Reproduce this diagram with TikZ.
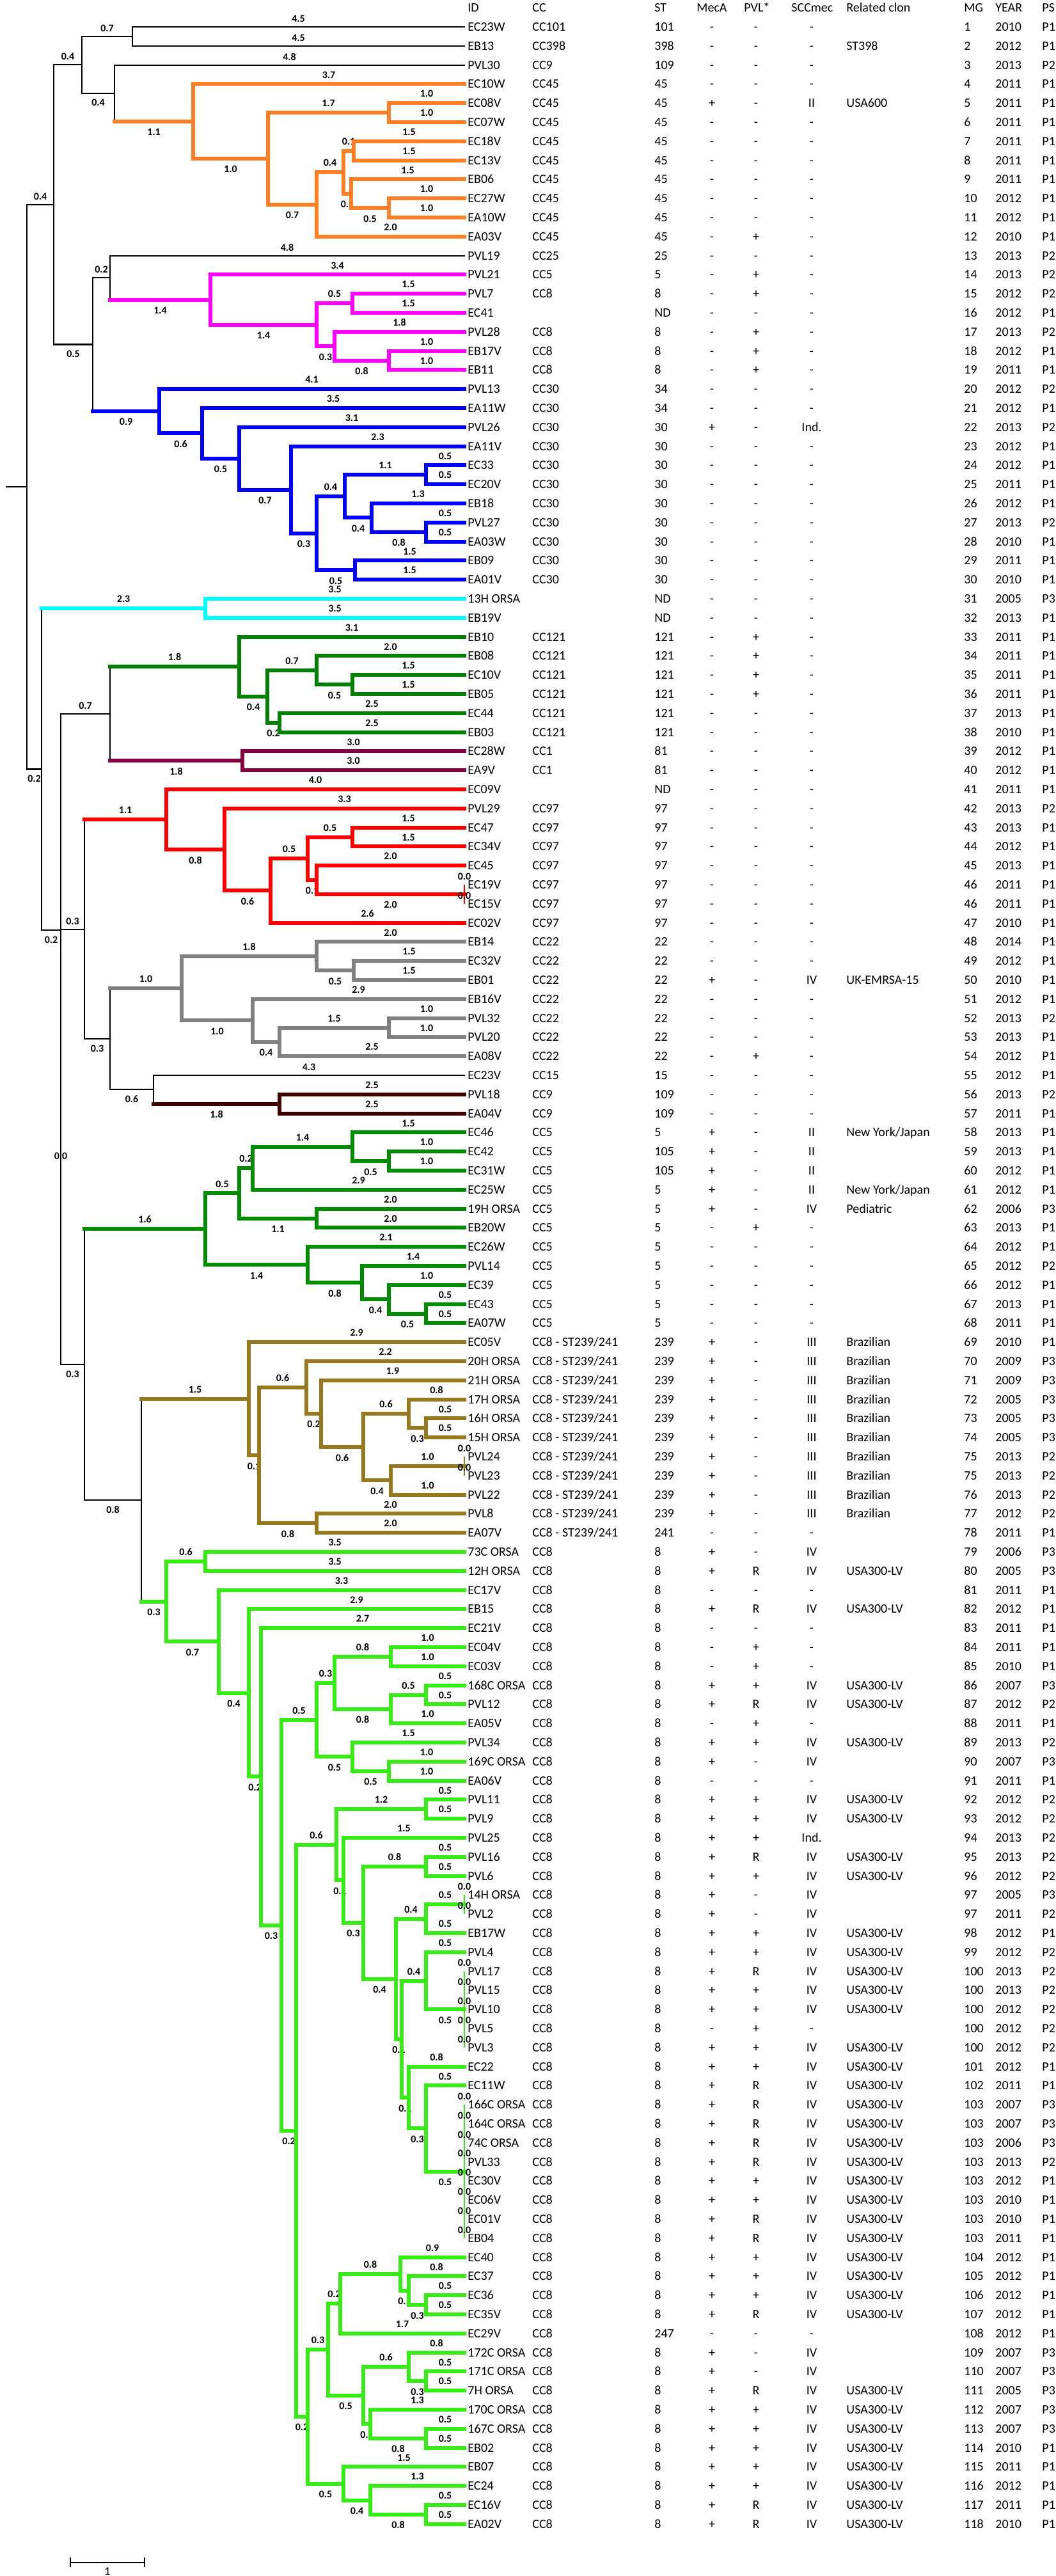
\documentclass[tikz,border=0pt]{standalone}
\usepackage{fontspec}
\setmainfont{Carlito}
\definecolor{cOr}{RGB}{255,127,39}
\definecolor{cMg}{RGB}{255,0,255}
\definecolor{cBl}{RGB}{0,0,255}
\definecolor{cCy}{RGB}{0,255,255}
\definecolor{cDg}{RGB}{0,128,0}
\definecolor{cPu}{RGB}{128,0,64}
\definecolor{cRd}{RGB}{255,0,0}
\definecolor{cGy}{RGB}{128,128,128}
\definecolor{cBr}{RGB}{64,0,0}
\definecolor{cGn}{RGB}{0,140,0}
\definecolor{cOl}{RGB}{150,120,30}
\definecolor{cLi}{RGB}{55,235,20}
\tikzset{
 sBk/.style={draw=black,line width=1.1pt,line cap=rect},
 clw/.style={line width=3pt,line cap=rect},
 sOr/.style={clw,draw=cOr},
 sMg/.style={clw,draw=cMg},
 sBl/.style={clw,draw=cBl},
 sCy/.style={clw,draw=cCy},
 sDg/.style={clw,draw=cDg},
 sPu/.style={clw,draw=cPu},
 sRd/.style={clw,draw=cRd},
 sGy/.style={clw,draw=cGy},
 sBr/.style={clw,draw=cBr},
 sGn/.style={clw,draw=cGn},
 sOl/.style={clw,draw=cOl},
 sLi/.style={clw,draw=cLi},
 sRdT/.style={draw=cRd,line width=1.4pt},
 sOlT/.style={draw=cOl,line width=1.4pt},
 sLiT/.style={draw=cLi,line width=1.4pt},
 lab/.style={font=\fontsize{8}{9}\selectfont\bfseries,inner sep=0pt,text height=5pt,text depth=0pt},
 labA/.style={lab,anchor=south,yshift=3.2pt},
 labB/.style={lab,anchor=north,yshift=-4.5pt},
 tx/.style={font=\fontsize{10}{12}\selectfont,inner sep=0pt,text height=6.4pt,text depth=0pt},
 txl/.style={tx,anchor=west},
 txc/.style={tx,anchor=center},
}
\newcommand\tedge[6]{\draw[#1] (#3) -- (#3 |- #4);\draw[#2] (#3 |- #4) -- node[#6] {#5} (#4);}
\newcommand\tzero[3]{\draw[#1] (#2) -- (#3) node[labA] {0.0};}
\begin{document}
\begin{tikzpicture}[x=0.5pt,y=-14.9pt]
\fill[white] (0,-0.4094) rectangle (1650,134.725);
\useasboundingbox (0,-0.4094) rectangle (1650,134.725);
% header
\node[txl] (hID) at (731,0) {ID};
\node[txl] (hCC) at (832,0) {CC};
\node[txl] (hST) at (1023,0) {ST};
\node[txl] (hME) at (1089,0) {MecA};
\node[txl] (hPV) at (1163,0) {PVL*};
\node[txl] (hSC) at (1237,0) {SCCmec};
\node[txl] (hRL) at (1323,0) {Related clon};
\node[txl] (hMG) at (1507,0) {MG};
\node[txl] (hYR) at (1556,0) {YEAR};
\node[txl] (hPS) at (1629,0) {PS};
% table rows
\foreach \vR/\vI/\vC/\vS/\vM/\vP/\vQ/\vL/\vG/\vY/\vZ in {
1/EC23W/CC101/101/-/-/-//1/2010/P1,
2/EB13/CC398/398/-/-/-/ST398/2/2012/P1,
3/PVL30/CC9/109/-/-/-//3/2013/P2,
4/EC10W/CC45/45/-/-/-//4/2011/P1,
5/EC08V/CC45/45/+/-/II/USA600/5/2011/P1,
6/EC07W/CC45/45/-/-/-//6/2011/P1,
7/EC18V/CC45/45/-/-/-//7/2011/P1,
8/EC13V/CC45/45/-/-/-//8/2011/P1,
9/EB06/CC45/45/-/-/-//9/2011/P1,
10/EC27W/CC45/45/-/-/-//10/2012/P1,
11/EA10W/CC45/45/-/-/-//11/2012/P1,
12/EA03V/CC45/45/-/+/-//12/2010/P1,
13/PVL19/CC25/25/-/-/-//13/2013/P2,
14/PVL21/CC5/5/-/+/-//14/2013/P2,
15/PVL7/CC8/8/-/+/-//15/2012/P2,
16/EC41//ND/-/-/-//16/2012/P1,
17/PVL28/CC8/8/-/+/-//17/2013/P2,
18/EB17V/CC8/8/-/+/-//18/2012/P1,
19/EB11/CC8/8/-/+/-//19/2011/P1,
20/PVL13/CC30/34/-/-/-//20/2012/P2,
21/EA11W/CC30/34/-/-/-//21/2012/P1,
22/PVL26/CC30/30/+/-/Ind.//22/2013/P2,
23/EA11V/CC30/30/-/-/-//23/2012/P1,
24/EC33/CC30/30/-/-/-//24/2012/P1,
25/EC20V/CC30/30/-/-/-//25/2011/P1,
26/EB18/CC30/30/-/-/-//26/2012/P1,
27/PVL27/CC30/30/-/-/-//27/2013/P2,
28/EA03W/CC30/30/-/-/-//28/2010/P1,
29/EB09/CC30/30/-/-/-//29/2011/P1,
30/EA01V/CC30/30/-/-/-//30/2010/P1,
31/13H ORSA//ND/-/-/-//31/2005/P3,
32/EB19V//ND/-/-/-//32/2013/P1,
33/EB10/CC121/121/-/+/-//33/2011/P1,
34/EB08/CC121/121/-/+/-//34/2011/P1,
35/EC10V/CC121/121/-/+/-//35/2011/P1,
36/EB05/CC121/121/-/+/-//36/2011/P1,
37/EC44/CC121/121/-/-/-//37/2013/P1,
38/EB03/CC121/121/-/-/-//38/2010/P1,
39/EC28W/CC1/81/-/-/-//39/2012/P1,
40/EA9V/CC1/81/-/-/-//40/2012/P1,
41/EC09V//ND/-/-/-//41/2011/P1,
42/PVL29/CC97/97/-/-/-//42/2013/P2,
43/EC47/CC97/97/-/-/-//43/2013/P1,
44/EC34V/CC97/97/-/-/-//44/2012/P1,
45/EC45/CC97/97/-/-/-//45/2013/P1,
46/EC19V/CC97/97/-/-/-//46/2011/P1,
47/EC15V/CC97/97/-/-/-//46/2011/P1,
48/EC02V/CC97/97/-/-/-//47/2010/P1,
49/EB14/CC22/22/-/-/-//48/2014/P1,
50/EC32V/CC22/22/-/-/-//49/2012/P1,
51/EB01/CC22/22/+/-/IV/UK-EMRSA-15/50/2010/P1,
52/EB16V/CC22/22/-/-/-//51/2012/P1,
53/PVL32/CC22/22/-/-/-//52/2013/P2,
54/PVL20/CC22/22/-/-/-//53/2013/P1,
55/EA08V/CC22/22/-/+/-//54/2012/P1,
56/EC23V/CC15/15/-/-/-//55/2012/P1,
57/PVL18/CC9/109/-/-/-//56/2013/P2,
58/EA04V/CC9/109/-/-/-//57/2011/P1,
59/EC46/CC5/5/+/-/II/{New York/Japan}/58/2013/P1,
60/EC42/CC5/105/+/-/II//59/2013/P1,
61/EC31W/CC5/105/+/-/II//60/2012/P1,
62/EC25W/CC5/5/+/-/II/{New York/Japan}/61/2012/P1,
63/19H ORSA/CC5/5/+/-/IV/Pediatric/62/2006/P3,
64/EB20W/CC5/5/-/+/-//63/2013/P1,
65/EC26W/CC5/5/-/-/-//64/2012/P1,
66/PVL14/CC5/5/-/-/-//65/2012/P2,
67/EC39/CC5/5/-/-/-//66/2012/P1,
68/EC43/CC5/5/-/-/-//67/2013/P1,
69/EA07W/CC5/5/-/-/-//68/2011/P1,
70/EC05V/{CC8 - ST239/241}/239/+/-/III/Brazilian/69/2010/P1,
71/20H ORSA/{CC8 - ST239/241}/239/+/-/III/Brazilian/70/2009/P3,
72/21H ORSA/{CC8 - ST239/241}/239/+/-/III/Brazilian/71/2009/P3,
73/17H ORSA/{CC8 - ST239/241}/239/+/-/III/Brazilian/72/2005/P3,
74/16H ORSA/{CC8 - ST239/241}/239/+/-/III/Brazilian/73/2005/P3,
75/15H ORSA/{CC8 - ST239/241}/239/+/-/III/Brazilian/74/2005/P3,
76/PVL24/{CC8 - ST239/241}/239/+/-/III/Brazilian/75/2013/P2,
77/PVL23/{CC8 - ST239/241}/239/+/-/III/Brazilian/75/2013/P2,
78/PVL22/{CC8 - ST239/241}/239/+/-/III/Brazilian/76/2013/P2,
79/PVL8/{CC8 - ST239/241}/239/+/-/III/Brazilian/77/2012/P2,
80/EA07V/{CC8 - ST239/241}/241/-/-/-//78/2011/P1,
81/73C ORSA/CC8/8/+/-/IV//79/2006/P3,
82/12H ORSA/CC8/8/+/R/IV/USA300-LV/80/2005/P3,
83/EC17V/CC8/8/-/-/-//81/2011/P1,
84/EB15/CC8/8/+/R/IV/USA300-LV/82/2012/P1,
85/EC21V/CC8/8/-/-/-//83/2011/P1,
86/EC04V/CC8/8/-/+/-//84/2011/P1,
87/EC03V/CC8/8/-/+/-//85/2010/P1,
88/168C ORSA/CC8/8/+/+/IV/USA300-LV/86/2007/P3,
89/PVL12/CC8/8/+/R/IV/USA300-LV/87/2012/P2,
90/EA05V/CC8/8/-/+/-//88/2011/P1,
91/PVL34/CC8/8/+/+/IV/USA300-LV/89/2013/P2,
92/169C ORSA/CC8/8/+/-/IV//90/2007/P3,
93/EA06V/CC8/8/-/-/-//91/2011/P1,
94/PVL11/CC8/8/+/+/IV/USA300-LV/92/2012/P2,
95/PVL9/CC8/8/+/+/IV/USA300-LV/93/2012/P2,
96/PVL25/CC8/8/+/+/Ind.//94/2013/P2,
97/PVL16/CC8/8/+/R/IV/USA300-LV/95/2013/P2,
98/PVL6/CC8/8/+/+/IV/USA300-LV/96/2012/P2,
99/14H ORSA/CC8/8/+/-/IV//97/2005/P3,
100/PVL2/CC8/8/+/-/IV//97/2011/P2,
101/EB17W/CC8/8/+/+/IV/USA300-LV/98/2012/P1,
102/PVL4/CC8/8/+/+/IV/USA300-LV/99/2012/P2,
103/PVL17/CC8/8/+/R/IV/USA300-LV/100/2013/P2,
104/PVL15/CC8/8/+/+/IV/USA300-LV/100/2013/P2,
105/PVL10/CC8/8/+/+/IV/USA300-LV/100/2012/P2,
106/PVL5/CC8/8/-/+/-//100/2012/P2,
107/PVL3/CC8/8/+/+/IV/USA300-LV/100/2012/P2,
108/EC22/CC8/8/+/+/IV/USA300-LV/101/2012/P1,
109/EC11W/CC8/8/+/R/IV/USA300-LV/102/2011/P1,
110/166C ORSA/CC8/8/+/R/IV/USA300-LV/103/2007/P3,
111/164C ORSA/CC8/8/+/R/IV/USA300-LV/103/2007/P3,
112/74C ORSA/CC8/8/+/R/IV/USA300-LV/103/2006/P3,
113/PVL33/CC8/8/+/R/IV/USA300-LV/103/2013/P2,
114/EC30V/CC8/8/+/+/IV/USA300-LV/103/2012/P1,
115/EC06V/CC8/8/+/+/IV/USA300-LV/103/2010/P1,
116/EC01V/CC8/8/+/R/IV/USA300-LV/103/2010/P1,
117/EB04/CC8/8/+/R/IV/USA300-LV/103/2011/P1,
118/EC40/CC8/8/+/+/IV/USA300-LV/104/2012/P1,
119/EC37/CC8/8/+/+/IV/USA300-LV/105/2012/P1,
120/EC36/CC8/8/+/+/IV/USA300-LV/106/2012/P1,
121/EC35V/CC8/8/+/R/IV/USA300-LV/107/2012/P1,
122/EC29V/CC8/247/-/-/-//108/2012/P1,
123/172C ORSA/CC8/8/+/-/IV//109/2007/P3,
124/171C ORSA/CC8/8/+/-/IV//110/2007/P3,
125/7H ORSA/CC8/8/+/R/IV/USA300-LV/111/2005/P3,
126/170C ORSA/CC8/8/+/+/IV/USA300-LV/112/2007/P3,
127/167C ORSA/CC8/8/+/+/IV/USA300-LV/113/2007/P3,
128/EB02/CC8/8/+/+/IV/USA300-LV/114/2010/P1,
129/EB07/CC8/8/+/+/IV/USA300-LV/115/2011/P1,
130/EC24/CC8/8/+/+/IV/USA300-LV/116/2012/P1,
131/EC16V/CC8/8/+/R/IV/USA300-LV/117/2011/P1,
132/EA02V/CC8/8/+/R/IV/USA300-LV/118/2010/P1}{
 \coordinate (t\vR) at (726,\vR);
 \node[txl] (id\vR) at (731,\vR) {\vI};
 \node[txl] (cc\vR) at (832,\vR) {\vC};
 \node[txl] (st\vR) at (1023,\vR) {\vS};
 \node[txc] (me\vR) at (1113,\vR) {\vM};
 \node[txc] (pv\vR) at (1182,\vR) {\vP};
 \node[txc] (sc\vR) at (1269,\vR) {\vQ};
 \node[txl] (rl\vR) at (1323,\vR) {\vL};
 \node[txl] (mg\vR) at (1507,\vR) {\vG};
 \node[txl] (yr\vR) at (1556,\vR) {\vY};
 \node[txl] (ps\vR) at (1629,\vR) {\vZ};
}
% internal nodes
\coordinate (stub) at (10,25.13);
\coordinate (root) at (42,25.13);
\coordinate (A) at (84,10.323);
\coordinate (A1) at (128,2.988);
\coordinate (A1a) at (207,1.5);
\coordinate (A1b) at (179,4.477);
\coordinate (O) at (302,5.953);
\coordinate (O2) at (419,7.906);
\coordinate (O2a) at (608,5.5);
\coordinate (O2b) at (495,10.3125);
\coordinate (O2b1) at (537,8.625);
\coordinate (O2b1a) at (553,7.5);
\coordinate (O2b1b) at (549,9.75);
\coordinate (O2b1b2) at (608,10.5);
\coordinate (A2) at (145,17.658);
\coordinate (A2a) at (172,14.156);
\coordinate (M) at (329,15.3125);
\coordinate (M2) at (495,16.625);
\coordinate (M2a) at (551,15.5);
\coordinate (M2b) at (523,17.75);
\coordinate (M2b2) at (608,18.5);
\coordinate (Bl) at (249,21.16);
\coordinate (Bl2) at (316,22.32);
\coordinate (Bl3) at (374,23.64);
\coordinate (Bl4) at (455,25.281);
\coordinate (Bl5) at (495,27.5625);
\coordinate (Bl5a) at (539,25.625);
\coordinate (Bl5a1) at (666,24.5);
\coordinate (Bl5a2) at (581,26.75);
\coordinate (Bl5a2b) at (666,27.5);
\coordinate (Bl5b) at (555,29.5);
\coordinate (B) at (65,39.945);
\coordinate (Cy) at (321,31.5);
\coordinate (Ep) at (95,48.39);
\coordinate (T) at (172,37.03);
\coordinate (Gr) at (374,34.5625);
\coordinate (Gr2) at (418,36.125);
\coordinate (Gr2a) at (495,34.75);
\coordinate (Gr2aa) at (551,35.5);
\coordinate (Gr2b) at (437,37.5);
\coordinate (Pu) at (379,39.5);
\coordinate (K) at (95,59.75);
\coordinate (G) at (132,48.336);
\coordinate (R) at (260,42.578);
\coordinate (R2) at (351,44.156);
\coordinate (R3) at (423,46.3125);
\coordinate (R3a) at (481,44.625);
\coordinate (R3a1) at (551,43.5);
\coordinate (R3a2) at (495,45.75);
\coordinate (R3a2b) at (726,46.5);
\coordinate (H) at (172,54.09);
\coordinate (Gy) at (284,51.4375);
\coordinate (Gy1) at (495,49.75);
\coordinate (Gy1b) at (553,50.5);
\coordinate (Gy2) at (395,53.125);
\coordinate (Gy2b) at (437,54.25);
\coordinate (Gy2b1) at (608,53.5);
\coordinate (I) at (240,56.75);
\coordinate (Br) at (437,57.5);
\coordinate (F) at (132,71.17);
\coordinate (Gn) at (321,64.0625);
\coordinate (Gna) at (374,62.1875);
\coordinate (Gna1) at (395,60.875);
\coordinate (Gna1a) at (551,59.75);
\coordinate (Gna1a2) at (608,60.5);
\coordinate (Gna2) at (495,63.5);
\coordinate (Gnb) at (481,65.9375);
\coordinate (Gnb2) at (566,66.875);
\coordinate (Gnb2b) at (608,67.75);
\coordinate (Gnb2b2) at (666,68.5);
\coordinate (Bz) at (221,78.285);
\coordinate (Ol) at (389,72.97);
\coordinate (Ol2) at (405,75.9375);
\coordinate (Ol2a) at (479,72.375);
\coordinate (Ol2a2) at (502,73.75);
\coordinate (Ol2a2b) at (568,75.5);
\coordinate (Ol2a2b1) at (639,73.75);
\coordinate (Ol2a2b1b) at (666,74.5);
\coordinate (Ol2a2b2) at (611,77.25);
\coordinate (Ol2a2b2a) at (726,76.5);
\coordinate (Ol2b) at (495,79.5);
\coordinate (L) at (260,83.60);
\coordinate (La) at (321,81.5);
\coordinate (Lb) at (342,85.70);
\coordinate (Lc) at (389,88.40);
\coordinate (Ld) at (408,92.79);
\coordinate (Le) at (440,100.59);
\coordinate (Le1) at (495,89.8125);
\coordinate (Le1a) at (523,87.875);
\coordinate (Le1a1) at (611,86.5);
\coordinate (Le1a2) at (611,89.25);
\coordinate (Le1a2a) at (666,88.5);
\coordinate (Le1b) at (551,91.75);
\coordinate (Le1b2) at (608,92.5);
\coordinate (Le2) at (463,111.36);
\coordinate (Le2a) at (526,96.363);
\coordinate (Le2a1) at (666,94.5);
\coordinate (Le2a2) at (537,98.227);
\coordinate (Le2a3) at (568,100.453);
\coordinate (Le2a3a) at (666,97.5);
\coordinate (Q) at (619,103.406);
\coordinate (P1) at (666,100.25);
\coordinate (P1a) at (726,99.5);
\coordinate (Q2) at (628,106.5625);
\coordinate (P2) at (666,103.5);
\coordinate (P2b) at (726,105);
\coordinate (Q3) at (639,109.625);
\coordinate (Q3b) at (666,111.25);
\coordinate (Q3b2) at (726,113.5);
\coordinate (Le2b) at (481,126.36);
\coordinate (Le2b1) at (513,122.84);
\coordinate (Le2b1a) at (532,120.4375);
\coordinate (Le2b1a1) at (626,118.875);
\coordinate (Le2b1a1b) at (639,119.75);
\coordinate (Le2b1a1b2) at (666,120.5);
\coordinate (Le2b1b) at (568,125.25);
\coordinate (Le2b1b1) at (639,123.75);
\coordinate (Le2b1b1b) at (666,124.5);
\coordinate (Le2b1b2) at (579,126.75);
\coordinate (Le2b1b2b) at (666,127.5);
\coordinate (Le2b2) at (537,129.875);
\coordinate (Le2b2b) at (579,130.75);
\coordinate (Le2b2b2) at (666,131.5);
% backbone
\draw[sBk] (stub) -- (root);
\tedge{sBk}{sBk}{root}{A}{0.4}{labA}
\tedge{sBk}{sBk}{root}{B}{0.2}{labB}
\tedge{sBk}{sBk}{A}{A1}{0.4}{labA}
\tedge{sBk}{sBk}{A}{A2}{0.5}{labB}
\tedge{sBk}{sBk}{A1}{A1a}{0.7}{labA}
\tedge{sBk}{sBk}{A1}{A1b}{0.4}{labB}
\tedge{sBk}{sBk}{A1a}{t1}{4.5}{labA}
\tedge{sBk}{sBk}{A1a}{t2}{4.5}{labA}
\tedge{sBk}{sBk}{A1b}{t3}{4.8}{labA}
\tedge{sBk}{sOr}{A1b}{O}{1.1}{labB}
\tedge{sOr}{sOr}{O}{t4}{3.7}{labA}
\tedge{sOr}{sOr}{O}{O2}{1.0}{labB}
\tedge{sOr}{sOr}{O2}{O2a}{1.7}{labA}
\tedge{sOr}{sOr}{O2}{O2b}{0.7}{labB}
\tedge{sOr}{sOr}{O2a}{t5}{1.0}{labA}
\tedge{sOr}{sOr}{O2a}{t6}{1.0}{labA}
\tedge{sOr}{sOr}{O2b}{O2b1}{0.4}{labA}
\tedge{sOr}{sOr}{O2b}{t12}{2.0}{labA}
\tedge{sOr}{sOr}{O2b1}{O2b1a}{0.1}{labA}
\tedge{sOr}{sOr}{O2b1}{O2b1b}{0.1}{labB}
\tedge{sOr}{sOr}{O2b1a}{t7}{1.5}{labA}
\tedge{sOr}{sOr}{O2b1a}{t8}{1.5}{labA}
\tedge{sOr}{sOr}{O2b1b}{t9}{1.5}{labA}
\tedge{sOr}{sOr}{O2b1b}{O2b1b2}{0.5}{labB}
\tedge{sOr}{sOr}{O2b1b2}{t10}{1.0}{labA}
\tedge{sOr}{sOr}{O2b1b2}{t11}{1.0}{labA}
\tedge{sBk}{sBk}{A2}{A2a}{0.2}{labA}
\tedge{sBk}{sBl}{A2}{Bl}{0.9}{labB}
\tedge{sBk}{sBk}{A2a}{t13}{4.8}{labA}
\tedge{sBk}{sMg}{A2a}{M}{1.4}{labB}
\tedge{sMg}{sMg}{M}{t14}{3.4}{labA}
\tedge{sMg}{sMg}{M}{M2}{1.4}{labB}
\tedge{sMg}{sMg}{M2}{M2a}{0.5}{labA}
\tedge{sMg}{sMg}{M2}{M2b}{0.3}{labB}
\tedge{sMg}{sMg}{M2a}{t15}{1.5}{labA}
\tedge{sMg}{sMg}{M2a}{t16}{1.5}{labA}
\tedge{sMg}{sMg}{M2b}{t17}{1.8}{labA}
\tedge{sMg}{sMg}{M2b}{M2b2}{0.8}{labB}
\tedge{sMg}{sMg}{M2b2}{t18}{1.0}{labA}
\tedge{sMg}{sMg}{M2b2}{t19}{1.0}{labA}
\tedge{sBl}{sBl}{Bl}{t20}{4.1}{labA}
\tedge{sBl}{sBl}{Bl}{Bl2}{0.6}{labB}
\tedge{sBl}{sBl}{Bl2}{t21}{3.5}{labA}
\tedge{sBl}{sBl}{Bl2}{Bl3}{0.5}{labB}
\tedge{sBl}{sBl}{Bl3}{t22}{3.1}{labA}
\tedge{sBl}{sBl}{Bl3}{Bl4}{0.7}{labB}
\tedge{sBl}{sBl}{Bl4}{t23}{2.3}{labA}
\tedge{sBl}{sBl}{Bl4}{Bl5}{0.3}{labB}
\tedge{sBl}{sBl}{Bl5}{Bl5a}{0.4}{labA}
\tedge{sBl}{sBl}{Bl5}{Bl5b}{0.5}{labB}
\tedge{sBl}{sBl}{Bl5a}{Bl5a1}{1.1}{labA}
\tedge{sBl}{sBl}{Bl5a}{Bl5a2}{0.4}{labB}
\tedge{sBl}{sBl}{Bl5a1}{t24}{0.5}{labA}
\tedge{sBl}{sBl}{Bl5a1}{t25}{0.5}{labA}
\tedge{sBl}{sBl}{Bl5a2}{t26}{1.3}{labA}
\tedge{sBl}{sBl}{Bl5a2}{Bl5a2b}{0.8}{labB}
\tedge{sBl}{sBl}{Bl5a2b}{t27}{0.5}{labA}
\tedge{sBl}{sBl}{Bl5a2b}{t28}{0.5}{labA}
\tedge{sBl}{sBl}{Bl5b}{t29}{1.5}{labA}
\tedge{sBl}{sBl}{Bl5b}{t30}{1.5}{labA}
\tedge{sBk}{sCy}{B}{Cy}{2.3}{labA}
\tedge{sBk}{sBk}{B}{Ep}{0.2}{labB}
\tedge{sCy}{sCy}{Cy}{t31}{3.5}{labA}
\tedge{sCy}{sCy}{Cy}{t32}{3.5}{labA}
\tedge{sBk}{sBk}{Ep}{T}{0.7}{labA}
\tedge{sBk}{sBk}{Ep}{K}{0.0}{labB}
\tedge{sBk}{sDg}{T}{Gr}{1.8}{labA}
\tedge{sBk}{sPu}{T}{Pu}{1.8}{labB}
\tedge{sDg}{sDg}{Gr}{t33}{3.1}{labA}
\tedge{sDg}{sDg}{Gr}{Gr2}{0.4}{labB}
\tedge{sDg}{sDg}{Gr2}{Gr2a}{0.7}{labA}
\tedge{sDg}{sDg}{Gr2}{Gr2b}{0.2}{labB}
\tedge{sDg}{sDg}{Gr2a}{t34}{2.0}{labA}
\tedge{sDg}{sDg}{Gr2a}{Gr2aa}{0.5}{labB}
\tedge{sDg}{sDg}{Gr2aa}{t35}{1.5}{labA}
\tedge{sDg}{sDg}{Gr2aa}{t36}{1.5}{labA}
\tedge{sDg}{sDg}{Gr2b}{t37}{2.5}{labA}
\tedge{sDg}{sDg}{Gr2b}{t38}{2.5}{labA}
\tedge{sPu}{sPu}{Pu}{t39}{3.0}{labA}
\tedge{sPu}{sPu}{Pu}{t40}{3.0}{labA}
\tedge{sBk}{sBk}{K}{G}{0.3}{labA}
\tedge{sBk}{sBk}{K}{F}{0.3}{labB}
\tedge{sBk}{sRd}{G}{R}{1.1}{labA}
\tedge{sBk}{sBk}{G}{H}{0.3}{labB}
\tedge{sRd}{sRd}{R}{t41}{4.0}{labA}
\tedge{sRd}{sRd}{R}{R2}{0.8}{labB}
\tedge{sRd}{sRd}{R2}{t42}{3.3}{labA}
\tedge{sRd}{sRd}{R2}{R3}{0.6}{labB}
\tedge{sRd}{sRd}{R3}{R3a}{0.5}{labA}
\tedge{sRd}{sRd}{R3}{t48}{2.6}{labA}
\tedge{sRd}{sRd}{R3a}{R3a1}{0.5}{labA}
\tedge{sRd}{sRd}{R3a}{R3a2}{0.1}{labB}
\tedge{sRd}{sRd}{R3a1}{t43}{1.5}{labA}
\tedge{sRd}{sRd}{R3a1}{t44}{1.5}{labA}
\tedge{sRd}{sRd}{R3a2}{t45}{2.0}{labA}
\tedge{sRd}{sRd}{R3a2}{R3a2b}{2.0}{labB}
\tzero{sRdT}{R3a2b}{t46}
\tzero{sRdT}{R3a2b}{t47}
\tedge{sBk}{sGy}{H}{Gy}{1.0}{labA}
\tedge{sBk}{sBk}{H}{I}{0.6}{labB}
\tedge{sGy}{sGy}{Gy}{Gy1}{1.8}{labA}
\tedge{sGy}{sGy}{Gy}{Gy2}{1.0}{labB}
\tedge{sGy}{sGy}{Gy1}{t49}{2.0}{labA}
\tedge{sGy}{sGy}{Gy1}{Gy1b}{0.5}{labB}
\tedge{sGy}{sGy}{Gy1b}{t50}{1.5}{labA}
\tedge{sGy}{sGy}{Gy1b}{t51}{1.5}{labA}
\tedge{sGy}{sGy}{Gy2}{t52}{2.9}{labA}
\tedge{sGy}{sGy}{Gy2}{Gy2b}{0.4}{labB}
\tedge{sGy}{sGy}{Gy2b}{Gy2b1}{1.5}{labA}
\tedge{sGy}{sGy}{Gy2b}{t55}{2.5}{labA}
\tedge{sGy}{sGy}{Gy2b1}{t53}{1.0}{labA}
\tedge{sGy}{sGy}{Gy2b1}{t54}{1.0}{labA}
\tedge{sBk}{sBk}{I}{t56}{4.3}{labA}
\tedge{sBk}{sBr}{I}{Br}{1.8}{labB}
\tedge{sBr}{sBr}{Br}{t57}{2.5}{labA}
\tedge{sBr}{sBr}{Br}{t58}{2.5}{labA}
\tedge{sBk}{sGn}{F}{Gn}{1.6}{labA}
\tedge{sBk}{sBk}{F}{Bz}{0.8}{labB}
\tedge{sGn}{sGn}{Gn}{Gna}{0.5}{labA}
\tedge{sGn}{sGn}{Gn}{Gnb}{1.4}{labB}
\tedge{sGn}{sGn}{Gna}{Gna1}{0.2}{labA}
\tedge{sGn}{sGn}{Gna}{Gna2}{1.1}{labB}
\tedge{sGn}{sGn}{Gna1}{Gna1a}{1.4}{labA}
\tedge{sGn}{sGn}{Gna1}{t62}{2.9}{labA}
\tedge{sGn}{sGn}{Gna1a}{t59}{1.5}{labA}
\tedge{sGn}{sGn}{Gna1a}{Gna1a2}{0.5}{labB}
\tedge{sGn}{sGn}{Gna1a2}{t60}{1.0}{labA}
\tedge{sGn}{sGn}{Gna1a2}{t61}{1.0}{labA}
\tedge{sGn}{sGn}{Gna2}{t63}{2.0}{labA}
\tedge{sGn}{sGn}{Gna2}{t64}{2.0}{labA}
\tedge{sGn}{sGn}{Gnb}{t65}{2.1}{labA}
\tedge{sGn}{sGn}{Gnb}{Gnb2}{0.8}{labB}
\tedge{sGn}{sGn}{Gnb2}{t66}{1.4}{labA}
\tedge{sGn}{sGn}{Gnb2}{Gnb2b}{0.4}{labB}
\tedge{sGn}{sGn}{Gnb2b}{t67}{1.0}{labA}
\tedge{sGn}{sGn}{Gnb2b}{Gnb2b2}{0.5}{labB}
\tedge{sGn}{sGn}{Gnb2b2}{t68}{0.5}{labA}
\tedge{sGn}{sGn}{Gnb2b2}{t69}{0.5}{labA}
\tedge{sBk}{sOl}{Bz}{Ol}{1.5}{labA}
\tedge{sBk}{sLi}{Bz}{L}{0.3}{labB}
\tedge{sOl}{sOl}{Ol}{t70}{2.9}{labA}
\tedge{sOl}{sOl}{Ol}{Ol2}{0.1}{labB}
\tedge{sOl}{sOl}{Ol2}{Ol2a}{0.6}{labA}
\tedge{sOl}{sOl}{Ol2}{Ol2b}{0.8}{labB}
\tedge{sOl}{sOl}{Ol2a}{t71}{2.2}{labA}
\tedge{sOl}{sOl}{Ol2a}{Ol2a2}{0.2}{labB}
\tedge{sOl}{sOl}{Ol2a2}{t72}{1.9}{labA}
\tedge{sOl}{sOl}{Ol2a2}{Ol2a2b}{0.6}{labB}
\tedge{sOl}{sOl}{Ol2a2b}{Ol2a2b1}{0.6}{labA}
\tedge{sOl}{sOl}{Ol2a2b}{Ol2a2b2}{0.4}{labB}
\tedge{sOl}{sOl}{Ol2a2b1}{t73}{0.8}{labA}
\tedge{sOl}{sOl}{Ol2a2b1}{Ol2a2b1b}{0.3}{labB}
\tedge{sOl}{sOl}{Ol2a2b1b}{t74}{0.5}{labA}
\tedge{sOl}{sOl}{Ol2a2b1b}{t75}{0.5}{labA}
\tedge{sOl}{sOl}{Ol2a2b2}{Ol2a2b2a}{1.0}{labA}
\tedge{sOl}{sOl}{Ol2a2b2}{t78}{1.0}{labA}
\tzero{sOlT}{Ol2a2b2a}{t76}
\tzero{sOlT}{Ol2a2b2a}{t77}
\tedge{sOl}{sOl}{Ol2b}{t79}{2.0}{labA}
\tedge{sOl}{sOl}{Ol2b}{t80}{2.0}{labA}
\tedge{sLi}{sLi}{L}{La}{0.6}{labA}
\tedge{sLi}{sLi}{L}{Lb}{0.7}{labB}
\tedge{sLi}{sLi}{La}{t81}{3.5}{labA}
\tedge{sLi}{sLi}{La}{t82}{3.5}{labA}
\tedge{sLi}{sLi}{Lb}{t83}{3.3}{labA}
\tedge{sLi}{sLi}{Lb}{Lc}{0.4}{labB}
\tedge{sLi}{sLi}{Lc}{t84}{2.9}{labA}
\tedge{sLi}{sLi}{Lc}{Ld}{0.2}{labB}
\tedge{sLi}{sLi}{Ld}{t85}{2.7}{labA}
\tedge{sLi}{sLi}{Ld}{Le}{0.3}{labB}
\tedge{sLi}{sLi}{Le}{Le1}{0.5}{labA}
\tedge{sLi}{sLi}{Le}{Le2}{0.2}{labB}
\tedge{sLi}{sLi}{Le1}{Le1a}{0.3}{labA}
\tedge{sLi}{sLi}{Le1}{Le1b}{0.5}{labB}
\tedge{sLi}{sLi}{Le1a}{Le1a1}{0.8}{labA}
\tedge{sLi}{sLi}{Le1a}{Le1a2}{0.8}{labB}
\tedge{sLi}{sLi}{Le1a1}{t86}{1.0}{labA}
\tedge{sLi}{sLi}{Le1a1}{t87}{1.0}{labA}
\tedge{sLi}{sLi}{Le1a2}{Le1a2a}{0.5}{labA}
\tedge{sLi}{sLi}{Le1a2}{t90}{1.0}{labA}
\tedge{sLi}{sLi}{Le1a2a}{t88}{0.5}{labA}
\tedge{sLi}{sLi}{Le1a2a}{t89}{0.5}{labA}
\tedge{sLi}{sLi}{Le1b}{t91}{1.5}{labA}
\tedge{sLi}{sLi}{Le1b}{Le1b2}{0.5}{labB}
\tedge{sLi}{sLi}{Le1b2}{t92}{1.0}{labA}
\tedge{sLi}{sLi}{Le1b2}{t93}{1.0}{labA}
\tedge{sLi}{sLi}{Le2}{Le2a}{0.6}{labA}
\tedge{sLi}{sLi}{Le2}{Le2b}{0.2}{labB}
\tedge{sLi}{sLi}{Le2a}{Le2a1}{1.2}{labA}
\tedge{sLi}{sLi}{Le2a}{Le2a2}{0.1}{labB}
\tedge{sLi}{sLi}{Le2a1}{t94}{0.5}{labA}
\tedge{sLi}{sLi}{Le2a1}{t95}{0.5}{labA}
\tedge{sLi}{sLi}{Le2a2}{t96}{1.5}{labA}
\tedge{sLi}{sLi}{Le2a2}{Le2a3}{0.3}{labB}
\tedge{sLi}{sLi}{Le2a3}{Le2a3a}{0.8}{labA}
\tedge{sLi}{sLi}{Le2a3}{Q}{0.4}{labB}
\tedge{sLi}{sLi}{Le2a3a}{t97}{0.5}{labA}
\tedge{sLi}{sLi}{Le2a3a}{t98}{0.5}{labA}
\tedge{sLi}{sLi}{Q}{P1}{0.4}{labA}
\tedge{sLi}{sLi}{Q}{Q2}{0.1}{labB}
\tedge{sLi}{sLi}{P1}{P1a}{0.5}{labA}
\tedge{sLi}{sLi}{P1}{t101}{0.5}{labA}
\tzero{sLiT}{P1a}{t99}
\tzero{sLiT}{P1a}{t100}
\tedge{sLi}{sLi}{Q2}{P2}{0.4}{labA}
\tedge{sLi}{sLi}{Q2}{Q3}{0.1}{labB}
\tedge{sLi}{sLi}{P2}{t102}{0.5}{labA}
\tedge{sLi}{sLi}{P2}{P2b}{0.5}{labB}
\foreach \k in {103,...,107} {\tzero{sLiT}{P2b}{t\k}}
\tedge{sLi}{sLi}{Q3}{t108}{0.8}{labA}
\tedge{sLi}{sLi}{Q3}{Q3b}{0.3}{labB}
\tedge{sLi}{sLi}{Q3b}{t109}{0.5}{labA}
\tedge{sLi}{sLi}{Q3b}{Q3b2}{0.5}{labB}
\foreach \k in {110,...,117} {\tzero{sLiT}{Q3b2}{t\k}}
\tedge{sLi}{sLi}{Le2b}{Le2b1}{0.3}{labA}
\tedge{sLi}{sLi}{Le2b}{Le2b2}{0.5}{labB}
\tedge{sLi}{sLi}{Le2b1}{Le2b1a}{0.2}{labA}
\tedge{sLi}{sLi}{Le2b1}{Le2b1b}{0.5}{labB}
\tedge{sLi}{sLi}{Le2b1a}{Le2b1a1}{0.8}{labA}
\tedge{sLi}{sLi}{Le2b1a}{t122}{1.7}{labA}
\tedge{sLi}{sLi}{Le2b1a1}{t118}{0.9}{labA}
\tedge{sLi}{sLi}{Le2b1a1}{Le2b1a1b}{0.1}{labB}
\tedge{sLi}{sLi}{Le2b1a1b}{t119}{0.8}{labA}
\tedge{sLi}{sLi}{Le2b1a1b}{Le2b1a1b2}{0.3}{labB}
\tedge{sLi}{sLi}{Le2b1a1b2}{t120}{0.5}{labA}
\tedge{sLi}{sLi}{Le2b1a1b2}{t121}{0.5}{labA}
\tedge{sLi}{sLi}{Le2b1b}{Le2b1b1}{0.6}{labA}
\tedge{sLi}{sLi}{Le2b1b}{Le2b1b2}{0.1}{labB}
\tedge{sLi}{sLi}{Le2b1b1}{t123}{0.8}{labA}
\tedge{sLi}{sLi}{Le2b1b1}{Le2b1b1b}{0.3}{labB}
\tedge{sLi}{sLi}{Le2b1b1b}{t124}{0.5}{labA}
\tedge{sLi}{sLi}{Le2b1b1b}{t125}{0.5}{labA}
\tedge{sLi}{sLi}{Le2b1b2}{t126}{1.3}{labA}
\tedge{sLi}{sLi}{Le2b1b2}{Le2b1b2b}{0.8}{labB}
\tedge{sLi}{sLi}{Le2b1b2b}{t127}{0.5}{labA}
\tedge{sLi}{sLi}{Le2b1b2b}{t128}{0.5}{labA}
\tedge{sLi}{sLi}{Le2b2}{t129}{1.5}{labA}
\tedge{sLi}{sLi}{Le2b2}{Le2b2b}{0.4}{labB}
\tedge{sLi}{sLi}{Le2b2b}{t130}{1.3}{labA}
\tedge{sLi}{sLi}{Le2b2b}{Le2b2b2}{0.8}{labB}
\tedge{sLi}{sLi}{Le2b2b2}{t131}{0.5}{labA}
\tedge{sLi}{sLi}{Le2b2b2}{t132}{0.5}{labA}
% scale bar
\coordinate (sb1) at (110,134.01);
\coordinate (sb2) at (226,134.01);
\draw[black,line width=1.1pt] (sb1) -- (sb2);
\draw[black,line width=0.6pt] (110,133.76) -- (110,134.24);
\draw[black,line width=0.6pt] (226,133.76) -- (226,134.24);
\node[tx,anchor=center,font=\fontsize{9}{10}\selectfont] (sbl) at (168,134.45) {1};
\end{tikzpicture}
\end{document}
